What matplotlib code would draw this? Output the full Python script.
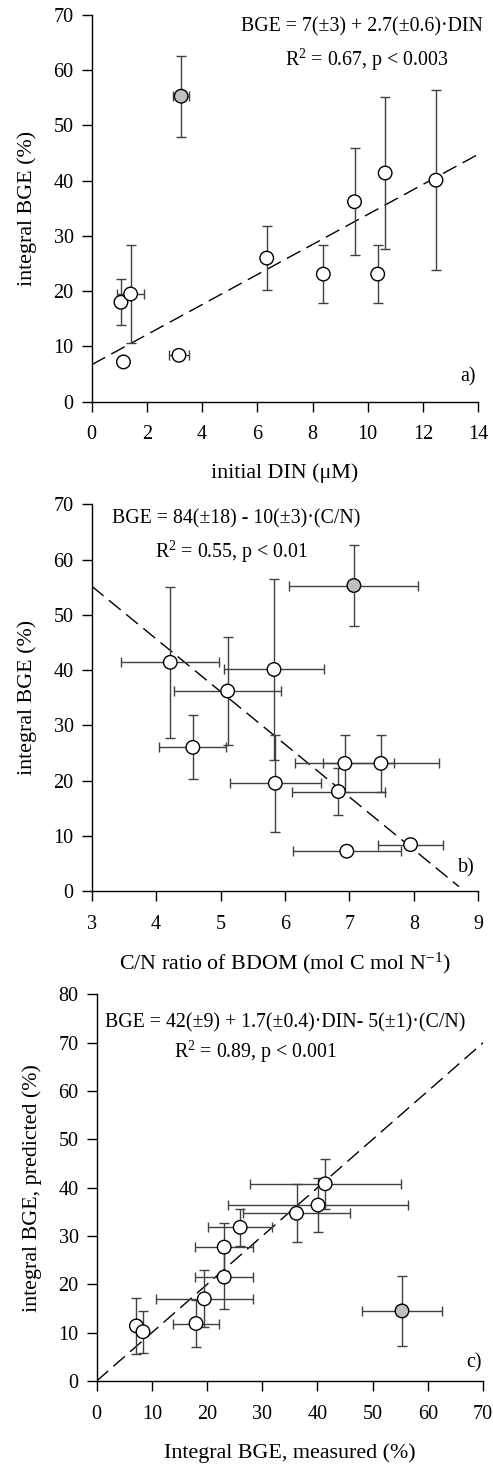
import numpy as np
import matplotlib
matplotlib.use("Agg")
import matplotlib.pyplot as plt

plt.rcParams['font.family'] = ['Liberation Serif', 'DejaVu Serif']
plt.rcParams['mathtext.fontset'] = 'custom'
plt.rcParams['mathtext.rm'] = 'Liberation Serif'
plt.rcParams['mathtext.it'] = 'Liberation Serif:italic'

# ===============================
# data
# ===============================
# measured integral BGE (%) and its error
bge = [55.3, 41.4, 40.1, 36.2, 26.0, 23.1, 23.1, 18.0, 19.5, 7.2, 8.4]
bge_err = [7.3, 13.7, 16.3, 9.7, 5.8, 5.2, 5.2, 4.2, 8.8, 0.0, 0.0]

# initial DIN (uM)
din = [3.24, 10.63, 12.47, 9.52, 6.34, 8.39, 10.36, 1.06, 1.41, 1.15, 3.16]
din_err = [0.28, 0.0, 0.0, 0.0, 0.0, 0.0, 0.0, 0.0, 0.5, 0.0, 0.37]

# C/N ratio of BDOM
cn = [7.07, 4.22, 5.83, 5.11, 4.57, 6.93, 7.49, 6.83, 5.85, 6.96, 7.95]
cn_err = [1.0, 0.76, 0.78, 0.83, 0.52, 0.77, 0.9, 0.72, 0.71, 0.84, 0.51]

# predicted integral BGE (%)
pred = [14.5, 40.8, 36.4, 34.7, 31.8, 21.5, 27.7, 11.9, 17.0, 11.4, 10.2]
pred_err = [7.3, 5.2, 5.6, 6.0, 3.8, 6.5, 5.0, 4.9, 5.9, 5.8, 4.3]

# marker face: first point (outlier) is gray
face = ['#c0c0c0'] + ['white'] * (len(bge) - 1)

# fit lines
fit_a = (6.7, 2.72)      # intercept, slope  (BGE vs DIN)
fit_b = (83.8, -9.54)    # intercept, slope  (BGE vs C/N)

# ===============================
# figure
# ===============================
fig = plt.figure(figsize=(4.93, 14.72), dpi=100)
ax_a = fig.add_axes([0.186, 0.7271, 0.784, 0.2627])
ax_b = fig.add_axes([0.186, 0.3947, 0.784, 0.2627])
ax_c = fig.add_axes([0.196, 0.0618, 0.784, 0.2627])

bar_col = '#404040'
dash = (0, (11, 5))
tick_fs = 14.5
lab_fs = 15.8
eq_fs = 14.3


def style(ax):
    for s in ['top', 'right']:
        ax.spines[s].set_visible(False)
    for s in ['left', 'bottom']:
        ax.spines[s].set_linewidth(1.0)
    ax.tick_params(axis='both', direction='out', length=7, width=1,
                   labelsize=tick_fs)
    ax.tick_params(axis='y', pad=6)
    ax.tick_params(axis='x', pad=10)


def points(ax, x, y, xerr, yerr):
    for i in range(len(x)):
        ax.errorbar(x[i], y[i], xerr=xerr[i], yerr=yerr[i], fmt='none',
                    ecolor=bar_col, elinewidth=1, capsize=3.6, capthick=1,
                    zorder=2)
    ax.scatter(x, y, s=95, c=face, edgecolors='black', linewidths=1,
               zorder=3)


# ---- a) ----
ax = ax_a
xl = np.array([0, 14])
ax.plot(xl, fit_a[0] + fit_a[1] * xl, color='black', lw=1, ls=dash, zorder=1)
points(ax, din, bge, din_err, bge_err)
ax.set_xlim(0, 14)
ax.set_ylim(0, 70)
ax.set_xticks(range(0, 15, 2))
ax.set_yticks(range(0, 71, 10))
style(ax)
ax.set_xlabel(u"initial DIN (\u03bcM)", fontsize=lab_fs, labelpad=14)
ax.set_ylabel("integral BGE (%)", fontsize=lab_fs, labelpad=12)
ax.text(9.8, 67.9, u"BGE = 7(\u00b13) + 2.7(\u00b10.6)\u00b7DIN",
        ha='center', va='center', fontsize=eq_fs)
ax.text(9.95, 61.9, u"R$^{2}$ = 0.67, p < 0.003",
        ha='center', va='center', fontsize=eq_fs)
ax.text(0.994, 0.064, "a)", transform=ax.transAxes, ha='right',
        va='center', fontsize=tick_fs)

# ---- b) ----
ax = ax_b
xl = np.array([3, 8.7])
ax.plot(xl, fit_b[0] + fit_b[1] * xl, color='black', lw=1, ls=dash, zorder=1)
points(ax, cn, bge, cn_err, bge_err)
ax.set_xlim(3, 9)
ax.set_ylim(0, 70)
ax.set_xticks(range(3, 10))
ax.set_yticks(range(0, 71, 10))
style(ax)
ax.set_xlabel(r"C/N ratio of BDOM (mol C mol N$^{\mathrm{-1}}$)",
              fontsize=lab_fs, labelpad=12)
ax.set_ylabel("integral BGE (%)", fontsize=lab_fs, labelpad=12)
ax.text(5.25, 67.3, u"BGE = 84(\u00b118) - 10(\u00b13)\u00b7(C/N)",
        ha='center', va='center', fontsize=eq_fs)
ax.text(5.17, 61.4, u"R$^{2}$ = 0.55, p < 0.01",
        ha='center', va='center', fontsize=eq_fs)
ax.text(0.991, 0.06, "b)", transform=ax.transAxes, ha='right',
        va='center', fontsize=tick_fs)

# ---- c) ----
ax = ax_c
xl = np.array([0, 70])
ax.plot(xl, xl, color='black', lw=1, ls=dash, zorder=1)
points(ax, bge, pred, bge_err, pred_err)
ax.set_xlim(0, 70)
ax.set_ylim(0, 80)
ax.set_xticks(range(0, 71, 10))
ax.set_yticks(range(0, 81, 10))
style(ax)
ax.set_xlabel("Integral BGE, measured (%)", fontsize=lab_fs, labelpad=14)
ax.set_ylabel("integral BGE, predicted (%)", fontsize=lab_fs, labelpad=12)
ax.text(34.1, 74.1,
        u"BGE = 42(\u00b19) + 1.7(\u00b10.4)\u00b7DIN- 5(\u00b11)\u00b7(C/N)",
        ha='center', va='center', fontsize=eq_fs)
ax.text(28.8, 68.1, u"R$^{2}$ = 0.89, p < 0.001",
        ha='center', va='center', fontsize=eq_fs)
ax.text(0.997, 0.047, "c)", transform=ax.transAxes, ha='right',
        va='center', fontsize=tick_fs)

fig.savefig("out.png", dpi=100)
